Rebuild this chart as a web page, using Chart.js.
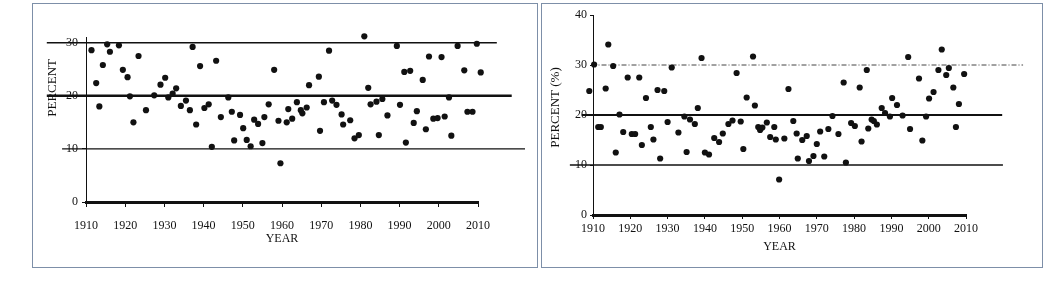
<!DOCTYPE html>
<html><head><meta charset="utf-8">
<script src="https://cdn.jsdelivr.net/npm/chart.js@4.4.1/dist/chart.umd.min.js"></script>
<style>
html,body{margin:0;padding:0;background:#fff;}
body{width:1058px;height:286px;position:relative;overflow:hidden;}
.panel{position:absolute;top:3px;border:1px solid #7d8fa8;box-sizing:border-box;height:265px;}
#p1{left:32px;width:506px;}
#p2{left:541px;width:502px;}
canvas{position:absolute;left:0;top:0;}
</style></head>
<body>
<div class="panel" id="p1"><canvas id="c1" width="504" height="263"></canvas></div>
<div class="panel" id="p2"><canvas id="c2" width="500" height="263"></canvas></div>
<script>
// ---------- data ----------
const xTickYears = [1910,1920,1930,1940,1950,1960,1970,1980,1990,2000,2010];
const leftYTicks = [0,10,20,30];
const rightYTicks = [0,10,20,30,40];

const leftYears = [1911.4,1912.6,1913.4,1914.3,1915.4,1916.1,1917.4,1918.4,1919.4,1920.6,1921.2,1922.1,1923.4,1925.3,1926.3,1927.4,1929.0,1930.2,1931.0,1932.1,1933.0,1934.2,1935.5,1936.5,1937.2,1938.1,1939.1,1940.2,1941.3,1942.1,1943.2,1944.4,1946.3,1947.2,1947.8,1949.3,1950.1,1951.0,1952.0,1952.9,1953.9,1955.0,1955.5,1956.6,1958.0,1959.1,1959.6,1961.2,1961.6,1962.6,1963.8,1964.8,1965.2,1966.3,1966.9,1967.7,1969.4,1969.7,1970.7,1972.0,1972.8,1973.9,1975.2,1975.6,1977.4,1978.5,1979.6,1981.0,1982.0,1982.6,1984.1,1984.7,1985.6,1986.9,1989.3,1990.1,1991.2,1991.6,1992.7,1993.6,1994.4,1995.9,1996.7,1997.5,1998.6,1999.7,2000.7,2001.5,2002.6,2003.2,2004.8,2005.9,2006.5,2007.3,2008.6,2009.7,2010.7];
const leftPercent = [28.6,22.4,18.0,25.8,29.7,28.3,33.5,29.5,24.9,23.5,19.9,15.0,27.5,17.3,31.8,20.1,22.1,23.4,19.7,20.4,21.4,18.1,19.1,17.3,29.2,14.6,25.6,17.7,18.4,10.4,26.6,16.0,19.7,17.0,11.6,16.4,13.9,11.7,10.5,15.5,14.7,11.1,16.0,18.4,24.9,15.3,7.3,15.0,17.5,15.7,18.8,17.3,16.7,17.8,22.0,31.8,23.6,13.4,18.8,28.5,19.1,18.3,16.5,14.6,15.4,12.0,12.6,31.2,21.5,18.4,18.9,12.6,19.4,16.3,29.4,18.3,24.5,11.2,24.7,14.9,17.1,23.0,13.7,27.4,15.7,15.8,27.3,16.1,19.7,12.5,29.4,33.3,24.8,17.0,17.0,29.8,24.4];

const rightYears = [1909.0,1910.3,1911.4,1912.1,1913.4,1914.1,1915.4,1916.1,1917.1,1918.1,1919.3,1920.4,1921.3,1922.4,1923.1,1924.2,1925.5,1926.2,1927.3,1928.0,1929.1,1930.0,1931.1,1932.9,1934.5,1935.1,1936.0,1937.3,1938.1,1939.1,1940.0,1941.1,1942.5,1943.8,1944.8,1946.3,1947.4,1948.5,1949.6,1950.3,1951.2,1952.9,1953.4,1954.3,1954.8,1955.4,1956.6,1957.5,1958.6,1959.0,1959.9,1961.3,1962.4,1963.7,1964.6,1964.9,1966.1,1967.3,1967.9,1969.1,1970.0,1970.9,1972.0,1973.1,1974.2,1975.8,1977.2,1977.8,1979.2,1980.2,1981.5,1982.0,1983.4,1983.8,1984.7,1985.3,1986.1,1987.4,1988.3,1989.6,1990.2,1991.5,1993.0,1994.5,1995.0,1997.4,1998.3,1999.3,2000.1,2001.3,2002.6,2003.5,2004.7,2005.4,2006.6,2007.3,2008.1,2009.5];
const rightPercent = [24.8,30.1,17.6,17.6,25.3,34.1,29.8,12.5,20.1,16.6,27.5,16.2,16.2,27.5,14.0,23.4,17.6,15.1,25.0,11.3,24.8,18.6,29.5,16.5,19.7,12.6,19.1,18.2,21.4,31.4,12.5,12.1,15.4,14.6,16.3,18.2,18.9,28.4,18.7,13.2,23.5,31.7,21.9,17.6,17.0,17.5,18.5,15.6,17.6,15.1,7.1,15.3,25.2,18.8,16.3,11.3,15.0,15.8,10.8,11.8,14.2,16.7,11.7,17.2,19.8,16.2,26.5,10.5,18.4,17.8,25.5,14.7,29.0,17.3,19.1,18.8,18.1,21.4,20.4,19.7,23.4,22.0,19.9,31.6,17.2,27.3,14.9,19.7,23.3,24.6,29.0,33.1,28.0,29.4,25.5,17.6,22.2,28.2];

// reference (control) lines: level and year extent
const leftRefLevels = [30,20,10];
const leftRefFrom   = [1900.0,1900.0,1903.9];
const leftRefTo     = [2014.8,2018.6,2022.0];
const rightRefLevels = [30,20,10];
const rightRefFrom   = [1909.6,1907.0,1903.8];
const rightRefTo     = [2025.3,2019.7,2019.9];

// ---------- styles ----------
const FONT = "'Liberation Serif','Times New Roman',serif";
const INK = '#111';
const leftRefStyle  = [{w:1.6,dash:[]},{w:2.6,dash:[]},{w:1.2,dash:[]}];
const rightRefStyle = [{w:1,dash:[5,2,1,2],c:'#444'},{w:2.2,dash:[]},{w:1.5,dash:[]}];

const yTitlePlugin = {
  id:'yTitle',
  afterDraw(chart, args, o){
    const ys = chart.scales.y, ctx = chart.ctx;
    ctx.save();
    ctx.translate(o.x, ys.getPixelForValue(o.value));
    ctx.rotate(-Math.PI/2);
    ctx.font = o.font;
    ctx.fillStyle = INK;
    ctx.textAlign = 'center';
    ctx.textBaseline = 'middle';
    ctx.fillText(o.text, 0, 0);
    ctx.restore();
  }
};

function build(id, p){
  const ds = [];
  ds.push({
    type:'scatter', data:p.years.map((x,i)=>({x:x,y:p.vals[i]})),
    pointRadius:3.1, pointBackgroundColor:INK, pointBorderWidth:0,
    clip:false, order:0
  });
  p.levels.forEach((lv,i)=>{
    const st = p.refStyle[i];
    ds.push({
      type:'line', data:[{x:p.from[i],y:lv},{x:p.to[i],y:lv}],
      borderColor:st.c||INK, borderWidth:st.w, borderDash:st.dash,
      pointRadius:0, fill:false, tension:0, clip:false, order:1
    });
  });
  return new Chart(document.getElementById(id), {
    data:{datasets:ds},
    options:{
      responsive:false, animation:false, devicePixelRatio:1,
      layout:{padding:{left:0,top:p.padTop,right:p.padRight,bottom:0}},
      plugins:{legend:{display:false}, tooltip:{enabled:false},
        yTitle:{text:p.yTitle, value:21.5, x:p.yTitleX, font:'13px '+FONT}},
      scales:{
        x:{type:'linear', position:'bottom', min:1910, max:2010,
          afterBuildTicks:s=>{s.ticks = xTickYears.map(v=>({value:v}));},
          afterFit:s=>{s.height = p.xH;},
          ticks:{font:{family:FONT,size:12}, color:INK, padding:p.xPad, maxRotation:0, autoSkip:false, callback:v=>String(v)},
          grid:{drawOnChartArea:false, drawTicks:true, tickLength:p.xTl, color:INK, lineWidth:1},
          border:{display:true, color:INK, width:3},
          title:{display:true, text:'YEAR', color:INK, font:{family:FONT,size:12}, padding:{top:0,bottom:p.titlePadB}}
        },
        y:{type:'linear', position:'left', min:0, max:p.yMax,
          afterBuildTicks:s=>{s.ticks = p.yTicks.map(v=>({value:v}));},
          afterFit:s=>{s.width = p.yW;},
          ticks:{font:{family:FONT,size:12}, color:INK, padding:p.yPad},
          grid:{drawOnChartArea:false, drawTicks:true, tickLength:p.yTl, color:INK, lineWidth:1},
          border:{display:true, color:INK, width:1, dash:[3,2]}
        }
      }
    },
    plugins:[yTitlePlugin]
  });
}

build('c1', {years:leftYears, vals:leftPercent, levels:leftRefLevels, from:leftRefFrom, to:leftRefTo,
  refStyle:leftRefStyle, yTicks:leftYTicks, yMax:31, padTop:33.4, padRight:59, xH:65, yW:53,
  xPad:12, xTl:5, yPad:4, yTl:4, titlePadB:21, yTitle:'PERCENT', yTitleX:19.5});
build('c2', {years:rightYears, vals:rightPercent, levels:rightRefLevels, from:rightRefFrom, to:rightRefTo,
  refStyle:rightRefStyle, yTicks:rightYTicks, yMax:40, padTop:11, padRight:76, xH:52, yW:51,
  xPad:3, xTl:4, yPad:3, yTl:3, titlePadB:13, yTitle:'PERCENT (%)', yTitleX:14});
</script>
</body></html>
